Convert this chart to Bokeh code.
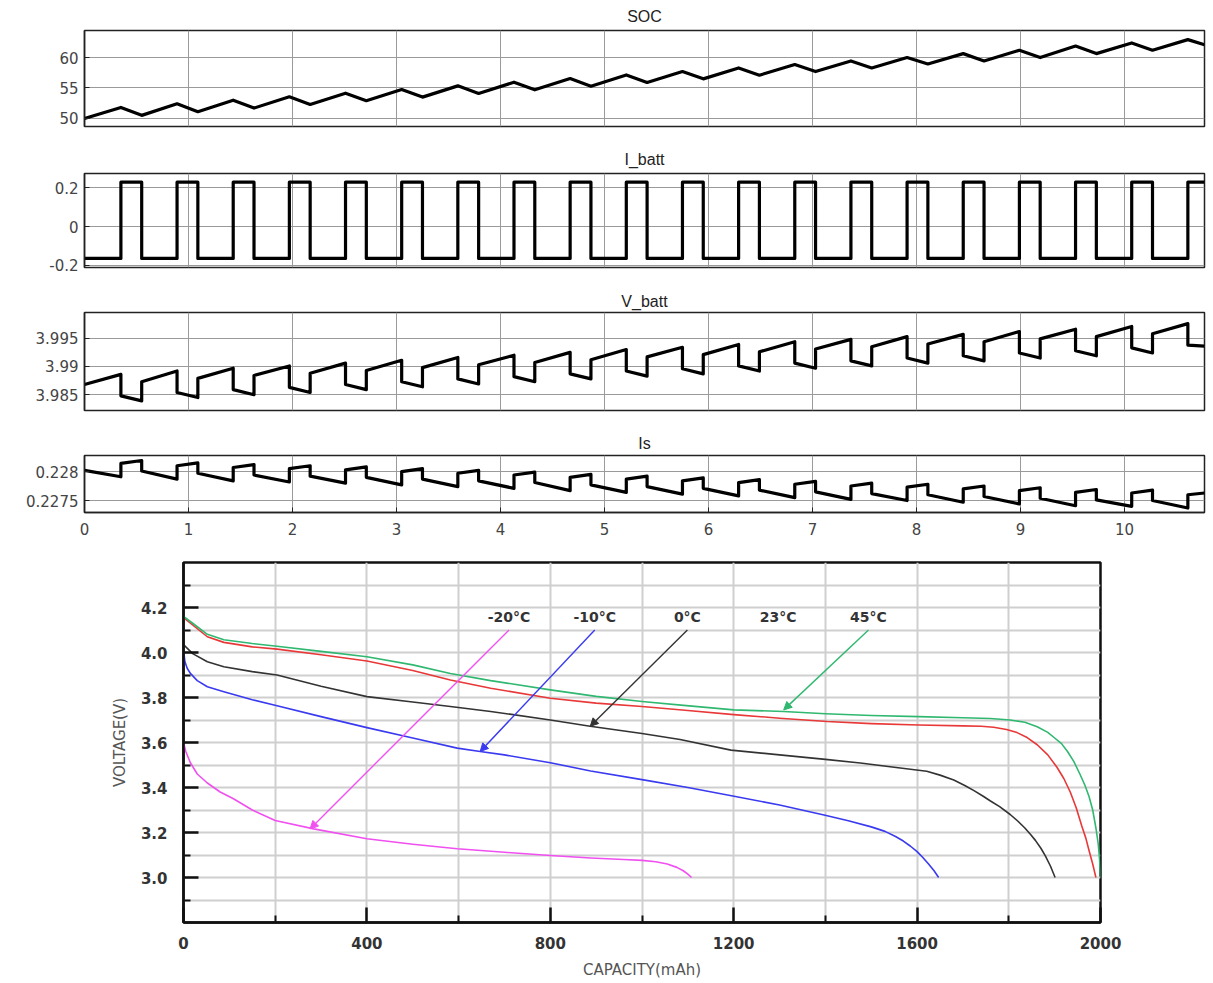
from bokeh.plotting import figure
from bokeh.layouts import column
from bokeh.models import Range1d, FixedTicker, PrintfTickFormatter, Arrow, NormalHead
from bokeh.core.properties import value
from bokeh.embed import file_html
from bokeh.resources import INLINE

# ---------------- top panels: time axis data ----------------
t_end = 10.77
pulse_on = [0.35, 0.89, 1.43, 1.97, 2.51, 3.05, 3.59, 4.13, 4.67, 5.21,
            5.75, 6.29, 6.83, 7.37, 7.91, 8.45, 8.99, 9.53, 10.07, 10.61]
pulse_off = [0.55, 1.09, 1.63, 2.17, 2.71, 3.25, 3.79, 4.33, 4.87, 5.41,
             5.95, 6.49, 7.03, 7.57, 8.11, 8.65, 9.19, 9.73, 10.27]

# SOC
soc_start = 50.0
soc_peak = [51.8, 52.4, 53.0, 53.55, 54.15, 54.75, 55.35, 55.95, 56.55, 57.15,
            57.7, 58.3, 58.85, 59.45, 60.0, 60.65, 61.2, 61.9, 62.4, 62.95]
soc_trough = [50.5, 51.1, 51.7, 52.3, 52.9, 53.5, 54.1, 54.7, 55.3, 55.9,
              56.5, 57.1, 57.7, 58.3, 58.95, 59.45, 60.0, 60.65, 61.2]
soc_end = 62.1

# I_batt
i_high = 0.23
i_low = -0.165

# V_batt
v_start = 3.9868
v_pre = [3.9886, 3.9892, 3.9897, 3.9901, 3.9906, 3.9911, 3.9916, 3.9920, 3.9925, 3.9930,
         3.9934, 3.9939, 3.9944, 3.9948, 3.9953, 3.9957, 3.9962, 3.9966, 3.9971, 3.9976]
v_drop = [3.9848, 3.9854, 3.9859, 3.9863, 3.9868, 3.9873, 3.9878, 3.9882, 3.9887, 3.9892,
          3.9896, 3.9901, 3.9906, 3.9910, 3.9915, 3.9919, 3.9924, 3.9928, 3.9933, 3.9938]
v_post = [3.9839, 3.9845, 3.9850, 3.9854, 3.9859, 3.9864, 3.9869, 3.9873, 3.9878, 3.9883,
          3.9887, 3.9892, 3.9897, 3.9901, 3.9906, 3.9910, 3.9915, 3.9919, 3.9924]
v_jump = [3.9873, 3.9879, 3.9884, 3.9888, 3.9893, 3.9898, 3.9903, 3.9907, 3.9912, 3.9917,
          3.9921, 3.9926, 3.9931, 3.9935, 3.9940, 3.9944, 3.9949, 3.9953, 3.9958]
v_end = 3.9936

# Is
is_start = 0.22802
is_pre = [0.22791, 0.22787, 0.22784, 0.22782, 0.22780, 0.22777, 0.22774, 0.22771, 0.22767, 0.22764,
          0.22761, 0.22758, 0.22755, 0.22752, 0.22750, 0.22747, 0.22744, 0.22741, 0.22740, 0.22737]
is_jump = [0.22814, 0.22810, 0.22807, 0.22805, 0.22803, 0.22800, 0.22797, 0.22794, 0.22790, 0.22787,
           0.22784, 0.22781, 0.22778, 0.22775, 0.22773, 0.22770, 0.22767, 0.22764, 0.22763, 0.22760]
is_top = [0.22819, 0.22815, 0.22812, 0.22810, 0.22808, 0.22805, 0.22802, 0.22799, 0.22795, 0.22792,
          0.22789, 0.22786, 0.22783, 0.22780, 0.22778, 0.22775, 0.22772, 0.22769, 0.22768]
is_drop = [0.22801, 0.22797, 0.22794, 0.22792, 0.22790, 0.22787, 0.22784, 0.22781, 0.22777, 0.22774,
           0.22771, 0.22768, 0.22765, 0.22762, 0.22760, 0.22757, 0.22754, 0.22751, 0.22750]
is_end = 0.22763

x_ticks_top = [0, 1, 2, 3, 4, 5, 6, 7, 8, 9, 10]

# ---------------- bottom chart data ----------------
cap_45 = [0, 20, 52, 88, 150, 204, 300, 400, 500, 582, 670, 800, 900, 1000, 1091, 1200,
          1309, 1400, 1500, 1603, 1700, 1760, 1803, 1835, 1862, 1885, 1900, 1915, 1928, 1942,
          1955, 1966, 1975, 1983, 1990, 1995, 1998, 2000]
v_45 = [4.161, 4.13, 4.081, 4.057, 4.04, 4.028, 4.005, 3.981, 3.945, 3.907, 3.875, 3.834,
        3.805, 3.782, 3.765, 3.745, 3.738, 3.728, 3.72, 3.715, 3.71, 3.707, 3.70, 3.69, 3.67,
        3.645, 3.62, 3.595, 3.56, 3.515, 3.46, 3.41, 3.36, 3.30, 3.22, 3.15, 3.08, 3.0]

cap_23 = [0, 52, 88, 150, 204, 300, 400, 500, 582, 670, 800, 900, 1000, 1100, 1200, 1300,
          1404, 1500, 1604, 1700, 1740, 1767, 1795, 1818, 1840, 1862, 1885, 1905, 1920, 1934,
          1947, 1959, 1968, 1975, 1983, 1990]
v_23 = [4.155, 4.07, 4.045, 4.025, 4.015, 3.99, 3.962, 3.92, 3.878, 3.841, 3.797, 3.775,
        3.76, 3.742, 3.724, 3.708, 3.693, 3.684, 3.678, 3.674, 3.672, 3.668, 3.658, 3.644,
        3.622, 3.59, 3.545, 3.49, 3.44, 3.38, 3.31, 3.23, 3.175, 3.12, 3.06, 3.0]

cap_0 = [0, 20, 52, 88, 150, 204, 300, 400, 500, 582, 670, 800, 887, 1000, 1083, 1194,
         1300, 1400, 1476, 1550, 1621, 1650, 1680, 1705, 1725, 1745, 1760, 1780, 1803,
         1820, 1835, 1848, 1858, 1870, 1880, 1891, 1901]
v_0 = [4.035, 3.995, 3.959, 3.937, 3.915, 3.90, 3.85, 3.804, 3.78, 3.76, 3.738, 3.70,
       3.672, 3.64, 3.613, 3.566, 3.545, 3.525, 3.509, 3.49, 3.472, 3.455, 3.433, 3.408,
       3.385, 3.36, 3.34, 3.315, 3.28, 3.25, 3.22, 3.19, 3.165, 3.13, 3.095, 3.05, 3.0]

cap_m10 = [0, 3, 8, 15, 30, 52, 88, 150, 204, 300, 400, 500, 597, 647, 700, 800, 888, 1000,
           1100, 1198, 1300, 1397, 1450, 1500, 1530, 1553, 1570, 1585, 1600, 1612, 1625,
           1637, 1647]
v_m10 = [4.013, 3.96, 3.93, 3.907, 3.875, 3.848, 3.826, 3.79, 3.763, 3.715, 3.666, 3.62,
         3.575, 3.56, 3.545, 3.51, 3.473, 3.435, 3.40, 3.362, 3.322, 3.278, 3.252, 3.225,
         3.205, 3.182, 3.162, 3.14, 3.115, 3.09, 3.06, 3.03, 3.0]

cap_m20 = [0, 5, 15, 30, 52, 80, 109, 150, 200, 284, 400, 500, 597, 700, 800, 888, 960,
           1000, 1030, 1055, 1076, 1090, 1100, 1108]
v_m20 = [3.60, 3.56, 3.51, 3.46, 3.42, 3.38, 3.35, 3.30, 3.253, 3.216, 3.172, 3.148,
         3.128, 3.112, 3.098, 3.087, 3.08, 3.076, 3.07, 3.06, 3.045, 3.03, 3.015, 3.0]

temp_labels = ["-20°C", "-10°C", "0°C", "23°C", "45°C"]
temp_label_cap = [710, 897, 1099, 1297, 1494]
temp_colors = ["#f050f0", "#3a3af0", "#333333", "#e83838", "#30b870"]

x_major = [0, 400, 800, 1200, 1600, 2000]
x_minor = [200, 600, 1000, 1400, 1800]
y_major = [3.0, 3.2, 3.4, 3.6, 3.8, 4.0, 4.2]
y_minor = [2.9, 3.1, 3.3, 3.5, 3.7, 3.9, 4.1, 4.3]

# ---------------- build step series from the read values ----------------
soc_t, soc_v = [0.0], [soc_start]
i_t, i_v = [0.0], [i_low]
vb_t, vb_v = [0.0], [v_start]
is_t, is_v = [0.0], [is_start]
for k in range(len(pulse_on)):
    on = pulse_on[k]
    soc_t.append(on); soc_v.append(soc_peak[k])
    i_t += [on, on]; i_v += [i_low, i_high]
    vb_t += [on, on]; vb_v += [v_pre[k], v_drop[k]]
    is_t += [on, on]; is_v += [is_pre[k], is_jump[k]]
    if k < len(pulse_off):
        off = pulse_off[k]
        soc_t.append(off); soc_v.append(soc_trough[k])
        i_t += [off, off]; i_v += [i_high, i_low]
        vb_t += [off, off]; vb_v += [v_post[k], v_jump[k]]
        is_t += [off, off]; is_v += [is_top[k], is_drop[k]]
soc_t.append(t_end); soc_v.append(soc_end)
i_t.append(t_end); i_v.append(i_high)
vb_t.append(t_end); vb_v.append(v_end)
is_t.append(t_end); is_v.append(is_end)

TICK_FONT = "DejaVu Sans"


def top_panel(title, yr, yticks, height, b_top, b_bottom, show_x, standoff):
    p = figure(width=1208, height=height, x_range=Range1d(0, t_end), y_range=Range1d(*yr),
               output_backend="svg", toolbar_location=None,
               min_border_left=84, min_border_right=4,
               min_border_top=b_top, min_border_bottom=b_bottom, title=title)
    p.title.align = "center"
    p.title.text_font = "Liberation Sans"
    p.title.text_font_size = "16px"
    p.title.text_font_style = "normal"
    p.title.text_color = "#222222"
    p.title.standoff = standoff
    p.outline_line_color = "#222222"
    p.outline_line_width = 1.5
    for ax in (p.xaxis[0], p.yaxis[0]):
        ax.axis_line_color = "#222222"
        ax.axis_line_width = 1.5
        ax.major_tick_in = 5
        ax.major_tick_out = 0
        ax.minor_tick_line_color = None
        ax.major_tick_line_color = "#222222"
        ax.major_label_text_font = TICK_FONT
        ax.major_label_text_font_size = "15px"
        ax.major_label_text_color = "#444444"
    p.xaxis.ticker = FixedTicker(ticks=x_ticks_top)
    p.xgrid.ticker = FixedTicker(ticks=x_ticks_top)
    p.yaxis.ticker = FixedTicker(ticks=yticks)
    p.yaxis.formatter = PrintfTickFormatter(format="%g")
    p.yaxis.major_label_standoff = 6
    p.xaxis.major_label_standoff = 10
    if not show_x:
        p.xaxis.visible = False
    p.xgrid.grid_line_color = "#9a9a9a"
    p.ygrid.grid_line_color = "#9a9a9a"
    p.xgrid.grid_line_width = 1
    p.ygrid.grid_line_width = 1
    return p


p1 = top_panel("SOC", (48.67, 64.45), [50, 55, 60], 143, 29, 17, False, 11)
p1.line(soc_t, soc_v, line_color="black", line_width=3.2, line_join="round")

p2 = top_panel("I_batt", (-0.212, 0.275), [-0.2, 0, 0.2], 142, 29, 18, False, 11)
p2.line(i_t, i_v, line_color="black", line_width=3.2, line_join="round")

p3 = top_panel("V_batt", (3.9822, 3.99957), [3.985, 3.99, 3.995], 143, 27, 18, False, 6)
p3.line(vb_t, vb_v, line_color="black", line_width=3.2, line_join="round")

p4 = top_panel("Is", (0.227293, 0.228277), [0.2275, 0.228], 117, 27, 33, True, 8)
p4.line(is_t, is_v, line_color="black", line_width=3.2, line_join="round")

# ---------------- bottom chart ----------------
p5 = figure(width=1200, height=436, x_range=Range1d(0, 2000), y_range=Range1d(2.8, 4.4),
            output_backend="svg", toolbar_location=None,
            min_border_left=183, min_border_right=100, min_border_top=17, min_border_bottom=57)
p5.outline_line_color = "#111111"
p5.outline_line_width = 2.5
p5.xaxis.ticker = FixedTicker(ticks=x_major, minor_ticks=x_minor)
p5.yaxis.ticker = FixedTicker(ticks=y_major, minor_ticks=y_minor)
p5.yaxis.formatter = PrintfTickFormatter(format="%.1f")
for ax in (p5.xaxis[0], p5.yaxis[0]):
    ax.axis_line_color = "#111111"
    ax.axis_line_width = 2.5
    ax.major_tick_in = 15
    ax.major_tick_out = 0
    ax.minor_tick_in = 7
    ax.minor_tick_out = 0
    ax.major_tick_line_width = 2.5
    ax.minor_tick_line_width = 2
    ax.major_tick_line_color = "#111111"
    ax.minor_tick_line_color = "#111111"
    ax.major_label_text_font = TICK_FONT
    ax.major_label_text_font_style = "bold"
    ax.major_label_text_font_size = "15px"
    ax.major_label_text_color = "#333333"
    ax.axis_label_text_font = TICK_FONT
    ax.axis_label_text_font_style = "normal"
    ax.axis_label_text_color = "#555555"
p5.xaxis.major_label_standoff = 14
p5.yaxis.major_label_standoff = 16
p5.xaxis.axis_label = "CAPACITY(mAh)"
p5.yaxis.axis_label = "VOLTAGE(V)"
p5.xaxis.axis_label_text_font_size = "15px"
p5.yaxis.axis_label_text_font_size = "15px"
p5.xaxis.axis_label_standoff = 9
p5.yaxis.axis_label_standoff = 9
for g in (p5.xgrid[0], p5.ygrid[0]):
    g.grid_line_color = "#cfcfcf"
    g.grid_line_width = 2
    g.minor_grid_line_color = "#cfcfcf"
    g.minor_grid_line_width = 2

curves = [(cap_m20, v_m20), (cap_m10, v_m10), (cap_0, v_0), (cap_23, v_23), (cap_45, v_45)]
for (cx, cy), col in zip(curves, temp_colors):
    p5.line(cx, cy, line_color=col, line_width=1.6, line_join="round")

# annotation arrows (label foot -> curve)
arrow_specs = [(0, 276, 3.216), (1, 647, 3.56), (2, 887, 3.672), (4, 1309, 3.745)]
for idx, xe, ye in arrow_specs:
    col = temp_colors[idx]
    p5.add_layout(Arrow(end=NormalHead(size=8, fill_color=col, line_color=col, line_width=1),
                        x_start=temp_label_cap[idx], y_start=4.1, x_end=xe, y_end=ye,
                        line_color=col, line_width=1.4))

p5.text(x=temp_label_cap, y=[4.157] * len(temp_labels), text=temp_labels,
        text_font=value(TICK_FONT), text_font_style="bold", text_font_size="14px",
        text_color="#333333", text_align="center", text_baseline="middle")

top = column(p1, p2, p3, p4, spacing=0)
open("out.html", "w").write(file_html([top, p5], INLINE))
